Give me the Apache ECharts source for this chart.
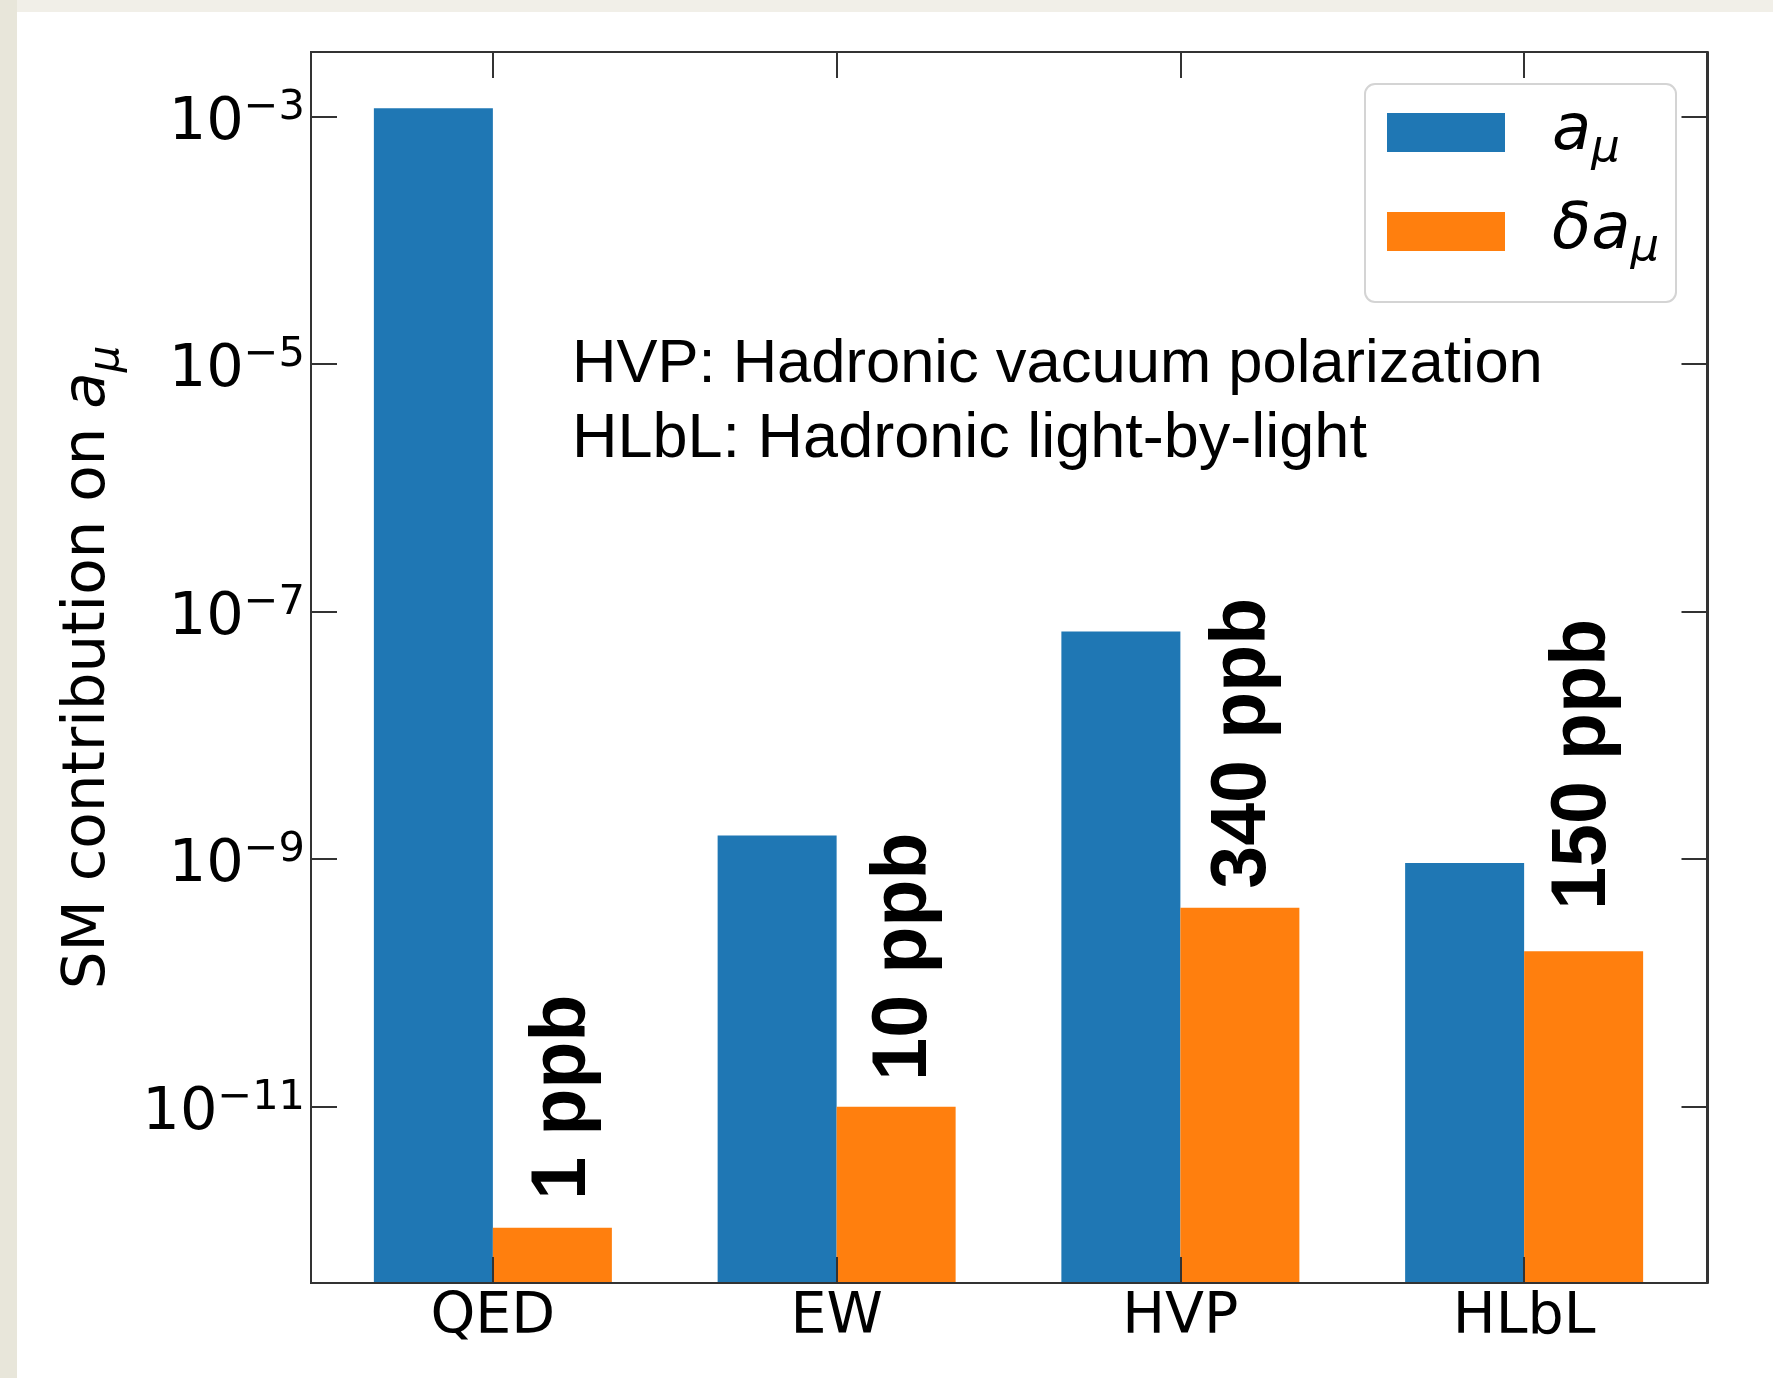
<!DOCTYPE html>
<html><head><meta charset="utf-8">
<script src="https://cdn.jsdelivr.net/npm/echarts@6/dist/echarts.min.js"></script>
<style>
html,body{margin:0;padding:0;}
body{width:1773px;height:1378px;background:#f1efe8;position:relative;overflow:hidden;}
#leftstrip{position:absolute;left:0;top:0;width:17px;height:1378px;background:#e8e6da;}
#panel{position:absolute;left:17px;top:12px;right:0;bottom:0;background:#fff;}
#chart{position:absolute;left:0;top:0;width:1773px;height:1378px;}
</style></head><body>
<div id="leftstrip"></div><div id="panel"></div><div id="chart"></div>
<script>
// ---- data ----
const categories = ['QED', 'EW', 'HVP', 'HLbL'];
const seriesNames = ['a_μ', 'δa_μ'];
const aMu = [1.16e-3, 1.55e-9, 6.9e-8, 9.3e-10];
const deltaAMu = [1.05e-12, 1.0e-11, 4.05e-10, 1.8e-10];
const ppbLabels = ['1 ppb', '10 ppb', '340 ppb', '150 ppb'];
const yTicks = [1e-11, 1e-9, 1e-7, 1e-5, 1e-3];
const yMin = 3.76e-13;
const yMax = 3.31e-3;
const yTitle = ['SM contribution on ', 'a', 'μ'];
const noteLines = ['HVP: Hadronic vacuum polarization', 'HLbL: Hadronic light-by-light'];

// ---- styles ----
const DV = 'DejaVu Sans';
const HV = 'Liberation Sans, Arial, Helvetica, sans-serif';
const labelGap = [28, 26, 19, 41.5];
const labelShift = [11, 8.5, 3.5, 0];
const tickStyle = { color: '#333', width: 2 };
const frameLine = { show: true, onZero: false, lineStyle: { color: '#333', width: 2 } };

function powLabel(v) {
  const e = Math.round(Math.log10(v));
  return '{b|10}{s|' + (e < 0 ? '\u2212' + (-e) : String(e)) + '}';
}
function mathName(n) {
  const parts = n.split('_');
  return '{i|' + parts[0] + '}{s|' + parts[1] + '}';
}

const chart = echarts.init(document.getElementById('chart'), null, { renderer: 'canvas' });
chart.setOption({
  backgroundColor: 'transparent',
  animation: false,
  title: [
    { text: noteLines[0], left: 572, top: 327.5, padding: 0,
      textStyle: { fontFamily: HV, fontSize: 61.5, fontWeight: 'normal', lineHeight: 75, color: '#000' } },
    { text: noteLines[1], left: 572, top: 402.5, padding: 0,
      textStyle: { fontFamily: HV, fontSize: 63, fontWeight: 'normal', lineHeight: 75, color: '#000' } }
  ],
  legend: {
    orient: 'vertical', left: 1365, top: 84,
    padding: [16.5, 17, 31.5, 22],
    itemWidth: 118, itemHeight: 39, itemGap: 28,
    icon: 'rect', selectedMode: false,
    backgroundColor: '#fff', borderColor: '#d4d4d4', borderWidth: 2, borderRadius: 10,
    data: seriesNames,
    formatter: mathName,
    textStyle: {
      padding: [0, 0, 0, 42],
      rich: {
        i: { fontFamily: DV, fontStyle: 'italic', fontSize: 64, lineHeight: 64, verticalAlign: 'top', color: '#000' },
        s: { fontFamily: DV, fontStyle: 'italic', fontSize: 45, lineHeight: 45, padding: [26, 0, 0, 0], verticalAlign: 'top', color: '#000' }
      }
    }
  },
  grid: [
    { left: 321, width: 1375, top: 52, height: 1231, containLabel: false },
    { left: 311, width: 1396, top: 52, height: 1231, show: true, z: 10,
      backgroundColor: 'transparent', borderColor: '#333', borderWidth: 2 }
  ],
  xAxis: [
    { type: 'category', gridIndex: 0, data: categories, position: 'bottom', z: 10,
      axisLine: frameLine,
      axisTick: { show: true, inside: true, length: 26, alignWithLabel: true, lineStyle: tickStyle },
      axisLabel: { margin: 7, fontFamily: DV, fontSize: 57, color: '#000' } },
    { type: 'category', gridIndex: 0, data: categories, position: 'top', z: 10,
      axisLine: frameLine,
      axisTick: { show: true, inside: true, length: 26, alignWithLabel: true, lineStyle: tickStyle },
      axisLabel: { show: false } },
    { type: 'value', gridIndex: 1, show: false }
  ],
  yAxis: [
    { type: 'log', gridIndex: 0, min: yMin, max: yMax, startValue: yMin, position: 'left', offset: 10, z: 10,
      axisLine: frameLine, splitLine: { show: false },
      axisTick: { show: true, inside: true, length: 26, customValues: yTicks, lineStyle: tickStyle },
      axisLabel: {
        customValues: yTicks, margin: 6, formatter: powLabel,
        rich: {
          b: { fontFamily: DV, fontSize: 59, lineHeight: 59, padding: [7, 0, 0, 0], verticalAlign: 'top', color: '#000' },
          s: { fontFamily: DV, fontSize: 41.5, lineHeight: 41.5, verticalAlign: 'top', color: '#000' }
        }
      },
      name: '{t|' + yTitle[0] + '}{i|' + yTitle[1] + '}{s|' + yTitle[2] + '}',
      nameLocation: 'middle', nameRotate: 90, nameGap: 193,
      nameTextStyle: {
        rich: {
          t: { fontFamily: DV, fontSize: 59.5, lineHeight: 59.5, verticalAlign: 'top', color: '#000' },
          i: { fontFamily: DV, fontStyle: 'italic', fontSize: 59.5, lineHeight: 59.5, verticalAlign: 'top', color: '#000' },
          s: { fontFamily: DV, fontStyle: 'italic', fontSize: 42, lineHeight: 42, padding: [28, 0, 0, 0], verticalAlign: 'top', color: '#000' }
        }
      }
    },
    { type: 'log', gridIndex: 0, min: yMin, max: yMax, position: 'right', offset: 11.5, z: 10,
      axisLine: frameLine, splitLine: { show: false },
      axisTick: { show: true, inside: true, length: 26, customValues: yTicks, lineStyle: tickStyle },
      axisLabel: { show: false } },
    { type: 'value', gridIndex: 1, show: false }
  ],
  series: [
    { name: seriesNames[0], type: 'bar', xAxisIndex: 0, yAxisIndex: 0,
      data: aMu, barWidth: 119, barGap: '0%', itemStyle: { color: '#1f77b4' } },
    { name: seriesNames[1], type: 'bar', xAxisIndex: 0, yAxisIndex: 0,
      data: deltaAMu.map((v, i) => ({ value: v, label: { distance: labelGap[i], offset: [0, labelShift[i]] } })),
      barWidth: 119, barGap: '0%', itemStyle: { color: '#ff7f0e' },
      label: {
        show: true, position: 'top', rotate: 90, align: 'left', verticalAlign: 'middle',
        formatter: p => ppbLabels[p.dataIndex],
        fontFamily: HV, fontWeight: 'bold', fontSize: 77, color: '#000'
      } }
  ]
});
</script>
</body></html>
